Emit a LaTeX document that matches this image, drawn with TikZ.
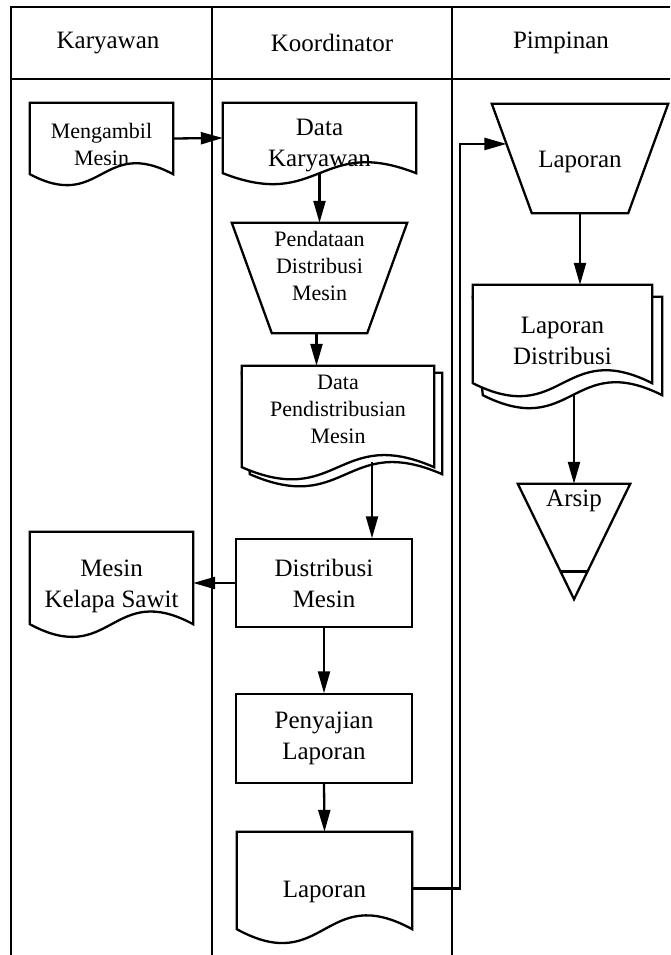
\documentclass[tikz,border=0pt]{standalone}
\usepackage{fontspec}
\setmainfont{Liberation Serif}
\usetikzlibrary{arrows.meta, positioning, calc, backgrounds}

% outlines of the flowchart symbols, drawn from the node corners
\newcommand\docshape[2]{%
  \draw[shp] (#1.north west) -- (#1.north east) -- (#1.south east)
    .. controls ([yshift=#2]#1.south) and ([yshift=-#2]#1.south) .. (#1.south west) -- cycle;
}
\newcommand\multidoc[4]{%
  \draw[shp] ([yshift=-#4]#1.north west) -- ([xshift=#3,yshift=-#4]#1.north east)
    -- ([xshift=#3,yshift=-#4]#1.south east)
    .. controls ([xshift=#3,yshift=#2-#4]#1.south) and ([xshift=#3,yshift=-#2-#4]#1.south) .. ([xshift=#3,yshift=-#4]#1.south west)
    -- cycle;
  \docshape{#1}{#2}
}
\newcommand\manualop[2]{%
  \draw[shp] (#1.north west) -- (#1.north east) -- ([xshift=-#2]#1.south east) -- ([xshift=#2]#1.south west) -- cycle;
}
\newcommand\archive[1]{%
  \draw[shp] (#1.north west) -- (#1.north east) -- (#1.south) -- cycle;
  \draw[shp] ($(#1.north west)!0.76!(#1.south)$) -- ($(#1.north east)!0.76!(#1.south)$);
}

\begin{document}
\begin{tikzpicture}[x=1pt, y=-1pt,
    shp/.style={line width=2.3pt, fill=white},
    lane/.style={line width=2.5pt},
    arr/.style={line width=2.3pt, -{Triangle[length=22pt, width=12pt]}},
    txt/.style={font=\fontsize{25}{31}\selectfont, align=center, inner sep=0pt},
    small/.style={font=\fontsize{22}{27}\selectfont},
    rectbox/.style={txt, draw, line width=1.5pt, minimum width=176, minimum height=88}]

    \useasboundingbox (0,0) rectangle (670,955);

    % Swimlanes
    \draw[lane] (11,955) -- (11,7) -- (670,7);
    \draw[lane] (11,79) -- (670,79);
    \draw[lane] (212,7) -- (212,955);
    \draw[lane] (452,7) -- (452,955);

    \node at (108, 43) [txt] (karyawan) {Karyawan};
    \node at (332, 43) [txt] (koordinator) {Koordinator};
    \node at (561, 43) [txt] (pimpinan) {Pimpinan};

    % Karyawan
    \node at (101.5, 138.5) [txt, small, minimum width=143, text height=62pt, text depth=9pt] (mengambil) {Mengambil\\Mesin};
    \node at (111.5, 578) [txt, minimum width=163, text height=75pt, text depth=17pt] (mesin) {Mesin\\Kelapa Sawit};

    % Koordinator
    \node at (319.5, 138) [txt, minimum width=193, text height=63pt, text depth=7pt] (datakar) {Data\\Karyawan};
    \node at (319.5, 278) [txt, small, minimum width=175, text height=77pt, text depth=33pt] (pendataan) {Pendataan\\Distribusi\\Mesin};
    \node at (338, 416.5) [txt, small, minimum width=192, text height=77pt, text depth=24pt] (datapend) {Data\\Pendistribusian\\Mesin};
    \node at (324, 583) [rectbox] (distribusi) {Distribusi\\Mesin};
    \node at (324, 738.5) [rectbox, minimum height=89] (penyajian) {Penyajian\\Laporan};
    \node at (324.5, 880.5) [txt, minimum width=175, text height=65pt, text depth=32pt] (laporank) {Laporan};

    % Pimpinan
    \node at (580, 158.5) [txt, minimum width=176, text height=63pt, text depth=46pt] (lappim) {Laporan};
    \node at (562.5, 334) [txt, minimum width=179, text height=79pt, text depth=19pt] (lapdist) {Laporan\\Distribusi};
    \node at (574, 541.5) [txt, minimum width=112, text height=22pt, text depth=93pt] (arsip) {Arsip};

    \coordinate (lapin) at ($(lappim.north west)!0.367!([xshift=40pt]lappim.south west)$);

    \draw[arr] (mengambil.east) -- (datakar.west);
    \draw[arr] (datakar.south) -- (pendataan.north);
    \draw[arr] ([xshift=-3pt]pendataan.south) -- ([xshift=-3pt]pendataan.south |- datapend.north);
    \draw[arr] ([xshift=34pt,yshift=5pt]datapend.south) -- ([xshift=34pt]datapend.south |- distribusi.north);
    \draw[arr] (distribusi.west) -- (distribusi.west -| mesin.east);
    \draw[arr] (distribusi.south) -- (penyajian.north);
    \draw[arr] (penyajian.south) -- (laporank.north);
    \draw[arr] ([yshift=-8pt]laporank.east) -- ++(48,0) |- (lapin);
    \draw[arr] (lappim.south) -- (lappim.south |- lapdist.north);
    \draw[arr] ([yshift=-11pt]arsip.north |- lapdist.south) -- (arsip.north);

    \begin{scope}[on background layer]
        \docshape{mengambil}{38pt}
        \docshape{mesin}{44pt}
        \docshape{datakar}{38pt}
        \manualop{pendataan}{40pt}
        \multidoc{datapend}{42pt}{8pt}{7pt}
        \docshape{laporank}{48pt}
        \manualop{lappim}{40pt}
        \multidoc{lapdist}{45pt}{10pt}{12pt}
        \archive{arsip}
    \end{scope}

\end{tikzpicture}
\end{document}
